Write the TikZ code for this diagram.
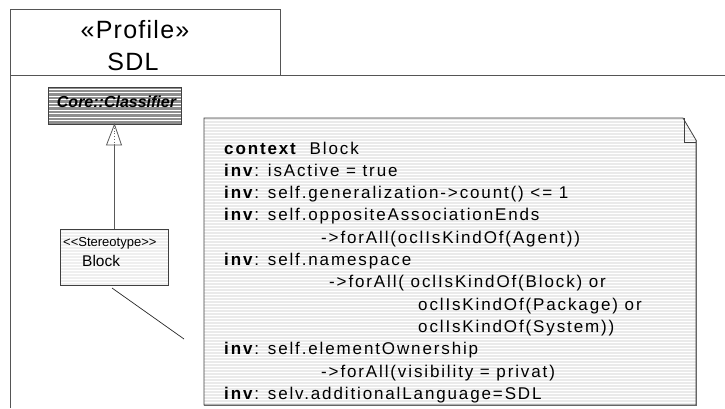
\documentclass[tikz,border=0pt]{standalone}
\usepackage{fontspec}
\setmainfont{Liberation Sans}
\newfontfamily\notefont[LetterSpace=11]{Liberation Sans}
\newfontfamily\titlefont[LetterSpace=5]{Liberation Sans}
\newfontfamily\plainfont{Liberation Sans}
\definecolor{clsgray}{HTML}{8E8E8E}
\definecolor{notegray}{HTML}{EAEAEA}
\definecolor{blockgray}{HTML}{EFEFEF}
\definecolor{pkgcol}{HTML}{555555}
\begin{document}
\begin{tikzpicture}[x=1pt,y=-1pt,
  pkgline/.style={draw=pkgcol, line width=1pt},
  stripe/.style={draw=white, line width=0.9pt},
  boxline/.style={draw=black!75, line width=0.8pt},
  notetext/.style={anchor=base west, inner sep=0pt, font=\notefont\fontsize{17}{20}\selectfont},
  titletext/.style={inner sep=0pt, font=\titlefont\fontsize{25}{30}\selectfont},
  connector/.style={draw=black!65, line width=0.8pt}]
\useasboundingbox (0,0) rectangle (725,408);
% package frame
\draw[pkgline] (10,9) rectangle (280,75);
\draw[pkgline] (10,408) -- (10,75) -- (725,75);
\node[titletext] (t1) at (135,30) {«Profile»};
\node[titletext] (t2) at (133,62) {SDL};
% classifier stripes
\begin{scope}
\clip (48,87) rectangle (181,124);
\fill[clsgray] (48,87) rectangle (181,124);
\foreach \y in {89,92.5,...,124} \draw[stripe] (48,\y) -- (181,\y);
\end{scope}
\node[boxline, minimum width=133pt, minimum height=37pt, inner sep=0pt] (cls) at (114.5,105.5) {};
\node[inner sep=0pt, font=\bfseries\itshape\fontsize{16}{19}\selectfont] (clst) at (116.5,102) {Core::Classifier};
% block stripes
\begin{scope}
\clip (60,229) rectangle (168,285);
\fill[blockgray] (60,229) rectangle (168,285);
\foreach \y in {231,234,...,285} \draw[stripe] (60,\y) -- (168,\y);
\end{scope}
\node[boxline, minimum width=108pt, minimum height=56pt, inner sep=0pt] (block) at (114,257) {};
\node[anchor=west, inner sep=0pt, font=\plainfont\fontsize{13}{15}\selectfont] (bst) at (63,243) {<<Stereotype>>};
\node[anchor=west, inner sep=0pt, font=\fontsize{15.5}{18}\selectfont] (bnm) at (82,261) {Block};
% generalization
\coordinate (tbase) at (114,145);
\draw[connector] (block.north) -- (tbase);
\draw[connector, fill=white] (cls.south) -- (106.5,145) -- (121.5,145) -- cycle;
\draw[black!60, line width=0.7pt, dotted] (114,128) -- (tbase);
% note
\begin{scope}
\clip (204,118) -- (683,118) -- (696,140) -- (696,405) -- (204,405) -- cycle;
\fill[notegray] (204,118) rectangle (696,405);
\foreach \y in {120,123,...,405} \draw[stripe] (204,\y) -- (696,\y);
\end{scope}
\draw[boxline] (204,118) -- (683,118) -- (696,140) -- (696,405) -- (204,405) -- cycle;
\draw[black!60, line width=1.6pt] (696.5,140) -- (696.5,405.5) -- (204,405.5);
\draw[boxline] (684,118) -- (684,142) -- (696,142);
% anchor line
\coordinate (a1) at (112,288);
\coordinate (a2) at (184,339);
\draw[black!85, line width=0.7pt] (a1) -- (a2);
% note text
\node[notetext] (l0) at (224,154) {\textbf{context}\hspace{12pt}Block};
\node[notetext] (l1) at (224,176.3) {\textbf{inv}: isActive = true};
\node[notetext] (l2) at (224,198.6) {\textbf{inv}: self.generalization->count() <= 1};
\node[notetext] (l3) at (224,220.9) {\textbf{inv}: self.oppositeAssociationEnds};
\node[notetext] (l4) at (321,243.2) {->forAll(oclIsKindOf(Agent))};
\node[notetext] (l5) at (224,265.5) {\textbf{inv}: self.namespace};
\node[notetext] (l6) at (329,287.8) {->forAll( oclIsKindOf(Block) or};
\node[notetext] (l7) at (418,310.1) {oclIsKindOf(Package) or};
\node[notetext] (l8) at (418,332.4) {oclIsKindOf(System))};
\node[notetext] (l9) at (224,354.7) {\textbf{inv}: self.elementOwnership};
\node[notetext] (l10) at (321,377) {->forAll(visibility = privat)};
\node[notetext] (l11) at (224,399.3) {\textbf{inv}: selv.additionalLanguage=SDL};
\end{tikzpicture}
\end{document}
